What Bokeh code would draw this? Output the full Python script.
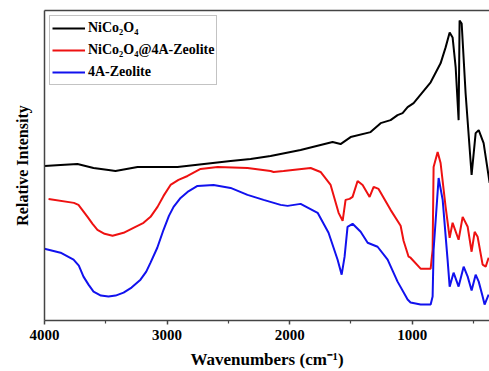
from bokeh.plotting import figure
from bokeh.models import Range1d, FixedTicker, LinearAxis, Legend, LegendItem
from bokeh.embed import file_html
from bokeh.resources import INLINE

# NiCo2O4
wn_black = [4000, 3869, 3731, 3600, 3478, 3421, 3241, 2915, 2482, 2319, 2156, 1911, 1650, 1585,
            1503, 1340, 1258, 1177, 1120, 1079, 1038, 989, 850, 769, 728, 695, 671, 646, 622,
            614, 597, 565, 516, 483, 458, 418, 369]
int_black = [155, 156, 157, 153, 151, 150, 154, 154, 160, 162, 165, 171, 179, 177,
             184, 189, 198, 201, 206, 208, 214, 218, 239, 258, 274, 289, 284, 254, 201,
             301, 298, 228, 146, 188, 191, 178, 138]

# NiCo2O4@4A-Zeolite
wn_red = [3967, 3760, 3723, 3649, 3608, 3568, 3510, 3445, 3355, 3274, 3192, 3135, 3078, 3029,
          2972, 2907, 2833, 2727, 2588, 2344, 2156,
          2131, 2050, 1829, 1748, 1666, 1601, 1568, 1544, 1511, 1487, 1446, 1405, 1348, 1315,
          1275, 1177, 1095, 1071, 1030, 1014, 932, 850, 834, 826, 793, 769, 728, 695, 671,
          622, 589, 548, 516, 491, 467, 426, 401, 377]
int_red = [122, 118, 116, 104, 97, 91, 87, 85, 88, 93, 98, 104, 114, 125,
           136, 141, 145, 152, 154, 153, 150,
           149, 150, 153, 149, 136, 108, 100, 121, 122, 124, 140, 136, 124, 134,
           132, 111, 95, 80, 64, 63, 52, 52, 71, 154, 169, 158, 114, 83, 98,
           81, 104, 94, 69, 89, 84, 56, 54, 63]

# 4A-Zeolite
wn_blue = [4000, 3869, 3763, 3720, 3682, 3641, 3600, 3540, 3478, 3420, 3355, 3290, 3217, 3170,
           3135, 3080, 3029, 2985, 2947, 2890, 2833, 2752, 2621,
           2482, 2344, 2213, 2074, 2017, 1911, 1772, 1683, 1609, 1576, 1552, 1528, 1487, 1421,
           1364, 1283, 1201, 1120, 1038, 1014, 932, 850, 834, 826, 785, 752, 712, 695, 663,
           622, 581, 548, 516, 483, 458, 426, 410, 377]
int_blue = [72, 68, 61, 55, 44, 36, 29, 25, 24, 25, 28, 33, 41, 49,
            58, 73, 91, 105, 114, 123, 129, 135, 136,
            133, 126, 121, 116, 115, 117, 108, 88, 61, 46, 64, 94, 97, 89,
            78, 74, 61, 39, 21, 18, 16, 16, 24, 71, 143, 121, 61, 34, 48,
            34, 54, 44, 30, 46, 39, 24, 16, 26]

labels = ["NiCo\u2082O\u2084", "NiCo\u2082O\u2084@4A-Zeolite", "4A-Zeolite"]
x_ticks = [4000, 3000, 2000, 1000]
x_minor = [3500, 2500, 1500, 500]

FONT = "Liberation Serif"
AX = "#444444"

p = figure(width=489, height=371, output_backend="svg", toolbar_location=None,
           x_range=Range1d(4000, 370), y_range=Range1d(0, 311),
           min_border_left=44, min_border_right=0, min_border_top=10, min_border_bottom=50,
           x_axis_label="Wavenumbers (cm\u207b\u00b9)", y_axis_label="Relative Intensity")
p.outline_line_color = None
p.grid.visible = False
p.background_fill_color = "white"
p.border_fill_color = "white"

xa = p.xaxis[0]
xa.ticker = FixedTicker(ticks=x_ticks, minor_ticks=x_minor)
xa.axis_line_color = AX
xa.axis_line_width = 1.5
xa.major_tick_line_color = AX
xa.major_tick_line_width = 1.5
xa.major_tick_out = 4
xa.major_tick_in = 0
xa.minor_tick_line_color = AX
xa.minor_tick_line_width = 1.2
xa.minor_tick_out = 3
xa.minor_tick_in = 0
xa.major_label_text_font = FONT
xa.major_label_text_font_style = "bold"
xa.major_label_text_font_size = "15px"
xa.major_label_text_color = "black"
xa.major_label_standoff = 5
xa.axis_label_text_font = FONT
xa.axis_label_text_font_style = "bold"
xa.axis_label_text_font_size = "17px"
xa.axis_label_text_color = "black"
xa.axis_label_standoff = 7

ya = p.yaxis[0]
ya.ticker = FixedTicker(ticks=[])
ya.axis_line_color = AX
ya.axis_line_width = 1.5
ya.major_tick_line_color = None
ya.minor_tick_line_color = None
ya.axis_label_text_font = FONT
ya.axis_label_text_font_style = "bold"
ya.axis_label_text_font_size = "16px"
ya.axis_label_text_color = "black"
ya.axis_label_standoff = 14

top = LinearAxis(ticker=FixedTicker(ticks=[]), axis_line_color=AX, axis_line_width=1.5,
                 major_tick_line_color=None, minor_tick_line_color=None)
p.add_layout(top, "above")

r1 = p.line(wn_black, int_black, line_color="black", line_width=2)
r2 = p.line(wn_red, int_red, line_color="#ee1111", line_width=2)
r3 = p.line(wn_blue, int_blue, line_color="#1111ee", line_width=2)

legend = Legend(items=[LegendItem(label=labels[0], renderers=[r1]),
                       LegendItem(label=labels[1], renderers=[r2]),
                       LegendItem(label=labels[2], renderers=[r3])],
                location="top_left", margin=5, padding=2, spacing=2,
                label_height=20, glyph_height=20, glyph_width=33, label_standoff=3,
                label_text_font=FONT, label_text_font_style="bold",
                label_text_font_size="14px", label_text_color="black",
                border_line_color="#888888", border_line_width=1,
                background_fill_alpha=1)
p.add_layout(legend)

open("out.html", "w").write(file_html(p, INLINE))
